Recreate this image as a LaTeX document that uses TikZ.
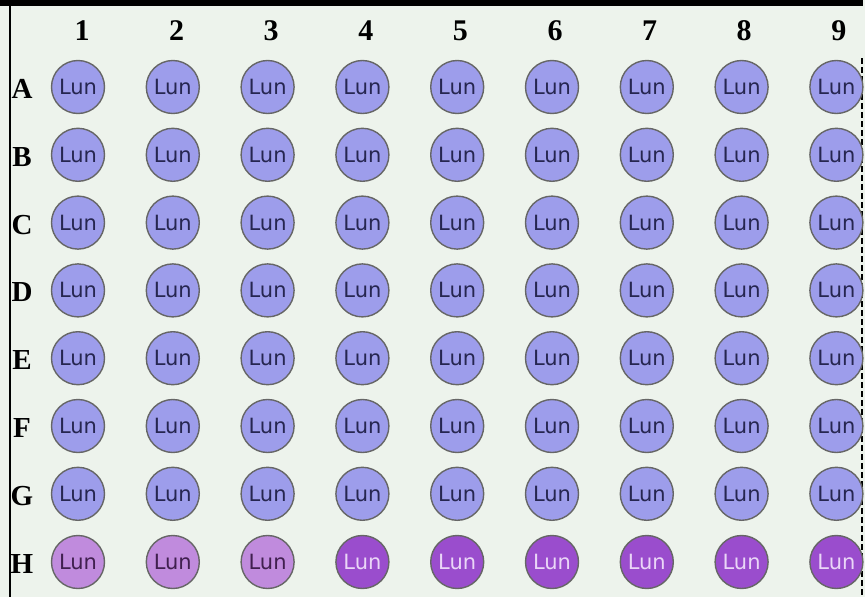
\documentclass[tikz,border=0pt]{standalone}
\usepackage{fontspec}
\setmainfont{Liberation Serif}
\newfontfamily\wellfont{DejaVu Sans}
\definecolor{bgc}{HTML}{EDF3EC}
\definecolor{wellblue}{HTML}{9D9DEB}
\definecolor{welllilac}{HTML}{C08BDD}
\definecolor{wellpurple}{HTML}{9A4DCD}
\definecolor{welltext}{HTML}{262650}
\definecolor{welltextb}{HTML}{40204F}
\definecolor{welltextw}{HTML}{EAD6F7}
\definecolor{rimc}{HTML}{666666}
\tikzset{
  x=1pt,y=1pt,
  well/.style={circle,draw=rimc,line width=1.4pt,minimum size=53pt,inner sep=0pt,
    font=\wellfont\fontsize{21}{21}\selectfont,text=welltext},
  wellB/.style={well,fill=wellblue},
  wellL/.style={well,fill=welllilac,text=welltextb},
  wellP/.style={well,fill=wellpurple,text=welltextw},
  collabel/.style={font=\fontsize{30}{30}\selectfont\bfseries},
  rowlabel/.style={font=\fontsize{29}{29}\selectfont\bfseries},
}
\begin{document}
\begin{tikzpicture}
\fill[bgc] (0,0) rectangle (865,-597);
\useasboundingbox (0,0) rectangle (865,-597);
\fill[black] (0,0) rectangle (863,-5.5);
\draw[black,line width=2pt] (9.5,-5) -- (9.5,-597);
\draw[black,line width=2pt,dash pattern=on 6pt off 3pt] (862,-58) -- (862,-597);
\foreach \c in {1,...,9}{
  \node[collabel] (col\c) at ({82+94.6*(\c-1)},-31) {\c};
}
\foreach \r [count=\i from 0] in {A,B,C,D,E,F,G,H}{
  \node[rowlabel] (row\r) at (22,{-89-67.8*\i}) {\r};
}
\foreach \r [count=\i from 0] in {A,B,C,D,E,F,G}{
  \foreach \c in {1,...,9}{
    \node[wellB] (w\r\c) at ({78+94.8*(\c-1)},{-87-67.8*\i}) {Lun};
  }
}
\foreach \c in {1,2,3}{
  \node[wellL] (wH\c) at ({78+94.8*(\c-1)},-562) {Lun};
}
\foreach \c in {4,...,9}{
  \node[wellP] (wH\c) at ({78+94.8*(\c-1)},-562) {Lun};
}
\end{tikzpicture}
\end{document}
